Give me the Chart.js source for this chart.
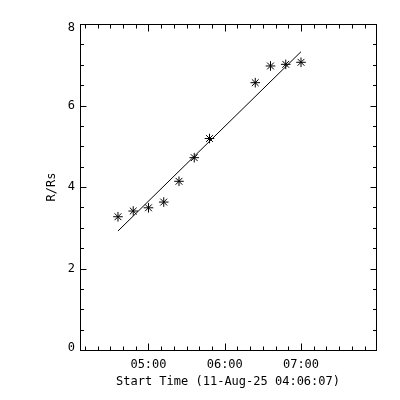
<!DOCTYPE html>
<html><head><meta charset="utf-8">
<script src="https://cdn.jsdelivr.net/npm/chart.js@4/dist/chart.umd.min.js"></script>
<style>html,body{margin:0;padding:0;background:#fff}#wrap{width:400px;height:400px}</style>
</head><body><div id="wrap"><canvas id="c" width="400" height="400"></canvas></div>
<script>
// ---- data ----
const obsTimes   = ["04:36","04:48","05:00","05:12","05:24","05:36","05:48","06:24","06:36","06:48","07:00"];
const obsHeights = [3.27, 3.41, 3.49, 3.63, 4.14, 4.72, 5.19, 6.56, 6.97, 7.01, 7.06];
const fitTimes   = ["04:36","07:00"];
const fitHeights = [2.92, 7.32];
const xTickLabels = ["05:00","06:00","07:00"];
const yTickValues = [0, 2, 4, 6, 8];
const xRange = ["04:06:07","07:59:00"];
const yRange = [0, 8];
const xTitle = "Start Time (11-Aug-25 04:06:07)";
const yTitle = "R/Rs";

function toMin(s){const p=s.split(":").map(Number);return p[0]*60+p[1]+(p[2]||0)/60;}
function fmt(v){const h=Math.floor(v/60),m=Math.round(v-h*60);return String(h).padStart(2,"0")+":"+String(m).padStart(2,"0");}

const FAMILY = "'DejaVu Sans Mono', monospace";
const FONT = {family:FAMILY, size:12};

const boxPlugin = {
  id:'idlBox',
  afterDraw(chart){
    const {ctx, chartArea:a, scales} = chart;
    const xs = scales.x, ys = scales.y;
    const L=Math.round(a.left), R=Math.round(a.right), T=Math.round(a.top), B=Math.round(a.bottom);
    ctx.save();
    ctx.strokeStyle='#000'; ctx.lineWidth=1;
    ctx.strokeRect(L+0.5, T+0.5, R-L, B-T);
    ctx.beginPath();
    const x0=xs.min, x1=xs.max;
    for(let v=Math.ceil(x0/10)*10; v<=x1; v+=10){
      const major = (v%60)===0;
      const len = major?7:4;
      const px = Math.round(xs.getPixelForValue(v))+0.5;
      ctx.moveTo(px,B+0.5); ctx.lineTo(px,B+0.5-len);
      ctx.moveTo(px,T+0.5); ctx.lineTo(px,T+0.5+len);
    }
    for(let v=ys.min; v<=ys.max+1e-9; v+=0.5){
      const major = Math.abs(v/2-Math.round(v/2))<1e-9;
      const len = major?6:3.5;
      const py = Math.round(ys.getPixelForValue(v))+0.5;
      ctx.moveTo(L+0.5,py); ctx.lineTo(L+0.5+len,py);
      ctx.moveTo(R+0.5,py); ctx.lineTo(R+0.5-len,py);
    }
    ctx.stroke();
    ctx.restore();
  }
};

new Chart(document.getElementById('c'), {
  type:'scatter',
  data:{datasets:[
    {data: obsTimes.map((t,i)=>({x:toMin(t), y:obsHeights[i]})),
     showLine:false, pointStyle:'star', pointRadius:4.8, pointBorderWidth:1,
     borderColor:'#000', backgroundColor:'#000'},
    {data: fitTimes.map((t,i)=>({x:toMin(t), y:fitHeights[i]})),
     showLine:true, pointRadius:0, borderWidth:1, borderColor:'#000', fill:false}
  ]},
  options:{
    responsive:false, animation:false, devicePixelRatio:1,
    layout:{padding:{left:0, top:24, right:24, bottom:0}},
    plugins:{legend:{display:false}, tooltip:{enabled:false}},
    scales:{
      x:{type:'linear', position:'bottom', min:toMin(xRange[0]), max:toMin(xRange[1]),
         afterBuildTicks(s){ s.ticks = xTickLabels.map(t=>({value:toMin(t)})); },
         afterFit(s){ s.height = 50; },
         grid:{display:false, drawTicks:false}, border:{display:false},
         ticks:{callback:v=>fmt(v), color:'#000', font:FONT, padding:8, maxRotation:0, autoSkip:false},
         title:{display:true, text:xTitle, color:'#000', font:FONT, padding:{top:0,bottom:11}}
      },
      y:{type:'linear', position:'left', min:yRange[0], max:yRange[1],
         afterBuildTicks(s){ s.ticks = yTickValues.map(v=>({value:v})); },
         afterFit(s){ s.width = 80; },
         grid:{display:false, drawTicks:false}, border:{display:false},
         ticks:{
           // IDL keeps the end labels inside the axis range
           callback:(v,i,arr)=> i===arr.length-1 ? ["",String(v)] : (i===0 ? [String(v),""] : String(v)),
           font:(c)=>{
             const n=yTickValues.length;
             if(c.index===n-1) return {family:FAMILY,size:12,lineHeight:'8px'};
             if(c.index===0) return {family:FAMILY,size:12,lineHeight:'5px'};
             return {family:FAMILY,size:12};
           },
           color:'#000', padding:5},
         title:{display:true, text:yTitle, color:'#000', font:FONT, padding:{top:45,bottom:0}}
      }
    }
  },
  plugins:[boxPlugin]
});
</script>
</body></html>
